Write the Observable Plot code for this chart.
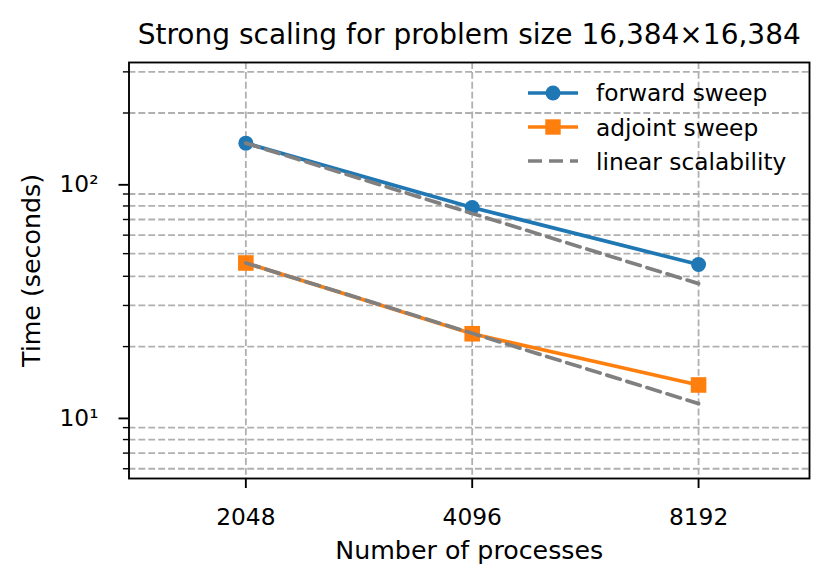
<!DOCTYPE html>
<html>
<head>
<meta charset="utf-8">
<script src="https://cdn.jsdelivr.net/npm/d3@7"></script>
<script src="https://cdn.jsdelivr.net/npm/@observablehq/plot@0.6"></script>
<style>
  body { margin: 0; background: #fff; font-family: "DejaVu Sans", sans-serif; }
  #wrap { position: relative; width: 830px; height: 587px; background: #fff; }
  #legend { position: absolute; left: 528px; top: 0; font-size: 23.3px; color: #000; }
  .row { position: absolute; left: 0; height: 34px; display: flex; align-items: center; white-space: nowrap; }
  .row svg { margin-right: 18px; }
</style>
</head>
<body>
<div id="wrap"><div id="legend"></div></div>
<script>
// ---- data ----
const processes = [2048, 4096, 8192];
const forwardSweep = [148.6, 78.8, 44.9];
const adjointSweep = [45.6, 22.7, 13.7];
const linearForward = [148.6, 74.3, 37.2];
const linearAdjoint = [45.6, 22.8, 11.4];

const xTicks = [2048, 4096, 8192];
const yMajorTicks = [10, 100];
const yMajorLabels = ["10¹", "10²"];
const yMinorTicks = [6, 7, 8, 9, 20, 30, 40, 50, 60, 70, 80, 90, 200, 300];

const seriesNames = ["forward sweep", "adjoint sweep", "linear scalability"];
const seriesColors = ["#1f77b4", "#ff7f0e", "#808080"];
const titleText = "Strong scaling for problem size 16,384×16,384";
const xLabel = "Number of processes";
const yLabel = "Time (seconds)";

// ---- tables ----
const toRows = (vals) => processes.map((p, i) => ({p, t: vals[i]}));
const fwd = toRows(forwardSweep);
const adj = toRows(adjointSweep);
const linF = toRows(linearForward);
const linA = toRows(linearAdjoint);

const FS = 23.3;
const LFS = 25.3;
const LW = 3.7;
const gridStyle = {stroke: "#b0b0b0", strokeOpacity: 1, strokeWidth: 1.8, strokeDasharray: "6.9,3"};
const dash = "14,7";

const chart = Plot.plot({
  width: 830,
  height: 587,
  marginTop: 62,
  marginBottom: 109,
  marginLeft: 128.5,
  marginRight: 21,
  style: {fontFamily: '"DejaVu Sans", sans-serif', fontSize: FS + "px", color: "#000", background: "#fff"},
  x: {type: "log", base: 2, domain: [1432, 11506]},
  y: {type: "log", domain: [5.45, 329]},
  marks: [
    Plot.gridX(xTicks, gridStyle),
    Plot.gridY(yMinorTicks, gridStyle),
    Plot.axisX(xTicks, {tickSize: 10, tickPadding: 19.5, strokeWidth: 1.87, fontSize: FS,
      tickFormat: d => String(d), label: null}),
    Plot.axisY(yMajorTicks, {tickSize: 10, tickPadding: 20.5, strokeWidth: 1.87, fontSize: FS,
      tickFormat: d => yMajorLabels[yMajorTicks.indexOf(d)], label: null, dy: 1.5}),
    Plot.axisY(yMinorTicks, {tickSize: 5.6, strokeWidth: 1.4, tickFormat: () => "", label: null}),
    Plot.line(fwd, {x: "p", y: "t", stroke: seriesColors[0], strokeWidth: LW}),
    Plot.dot(fwd, {x: "p", y: "t", r: 7.5, fill: seriesColors[0], symbol: "circle"}),
    Plot.line(adj, {x: "p", y: "t", stroke: seriesColors[1], strokeWidth: LW}),
    Plot.dot(adj, {x: "p", y: "t", r: 8.8, fill: seriesColors[1], symbol: "square"}),
    Plot.line(linF, {x: "p", y: "t", stroke: seriesColors[2], strokeWidth: LW, strokeDasharray: dash}),
    Plot.line(linA, {x: "p", y: "t", stroke: seriesColors[2], strokeWidth: LW, strokeDasharray: dash}),
    Plot.frame({stroke: "#000", strokeWidth: 1.87}),
    Plot.text([titleText], {frameAnchor: "top", dy: -18.7, lineAnchor: "bottom", fontSize: 28, fill: "#000"}),
    Plot.text([xLabel], {frameAnchor: "bottom", dy: 80, lineAnchor: "bottom", fontSize: LFS, fill: "#000"}),
    Plot.text([yLabel], {frameAnchor: "left", dx: -97.3, rotate: -90, textAnchor: "middle", lineAnchor: "middle", fontSize: LFS, fill: "#000"})
  ]
});
document.getElementById("wrap").prepend(chart);

// ---- legend (no frame, inside the axes, top right) ----
const legend = document.getElementById("legend");
const rowCenters = [92.9, 127.1, 161.3];
seriesNames.forEach((name, i) => {
  const row = document.createElement("div");
  row.className = "row";
  row.style.top = (rowCenters[i] - 17) + "px";
  let marker = "";
  if (i === 0) marker = `<circle cx="25" cy="17" r="7.5" fill="${seriesColors[0]}"/>`;
  if (i === 1) marker = `<rect x="17.3" y="9.3" width="15.4" height="15.4" fill="${seriesColors[1]}"/>`;
  const dashAttr = i === 2 ? `stroke-dasharray="${dash}"` : "";
  row.innerHTML = `<svg width="50" height="34"><line x1="0" x2="50" y1="17" y2="17" stroke="${seriesColors[i]}" stroke-width="${LW}" ${dashAttr}/>${marker}</svg><span>${name}</span>`;
  legend.appendChild(row);
});
</script>
</body>
</html>
